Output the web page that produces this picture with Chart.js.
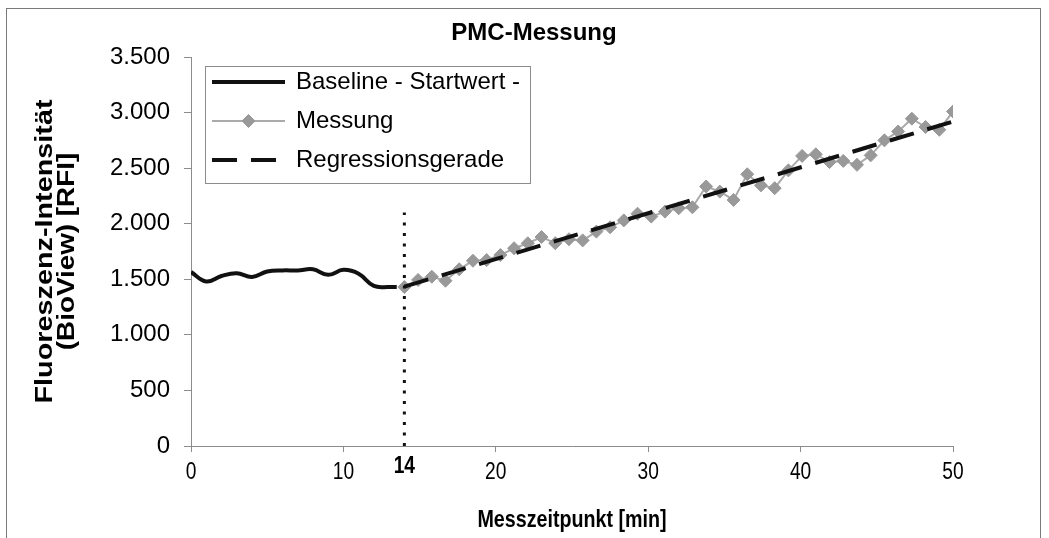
<!DOCTYPE html>
<html>
<head>
<meta charset="utf-8">
<title>PMC-Messung</title>
<script src="https://cdn.jsdelivr.net/npm/chart.js@4.4.0/dist/chart.umd.min.js"></script>
<style>
  html, body { margin: 0; padding: 0; background: #ffffff; }
  canvas { display: block; }
</style>
</head>
<body>
<canvas id="chart" width="1049" height="538"></canvas>
<script>
// Baseline phase before the start of the measurement (minutes, RFI)
const baselineTimes  = [0, 1, 2, 3, 4, 5, 6, 7, 8, 9, 10, 11, 12, 13, 13.5];
const baselineValues = [1565, 1480, 1530, 1555, 1520, 1570, 1580, 1580, 1590, 1540, 1585, 1550, 1440, 1430, 1430];

// Measurement readings from minute 14 onwards (minutes, RFI)
const messungTimes = [14, 14.9, 15.8, 16.7, 17.6, 18.5, 19.4, 20.3, 21.2, 22.1,
                      23, 23.9, 24.8, 25.7, 26.6, 27.5, 28.4, 29.3, 30.2, 31.1,
                      32, 32.9, 33.8, 34.7, 35.6, 36.5, 37.4, 38.3, 39.2, 40.1,
                      41, 41.9, 42.8, 43.7, 44.6, 45.5, 46.4, 47.3, 48.2, 49.1, 50];
const messungValues = [1430, 1494, 1523, 1487, 1590, 1667, 1673, 1718, 1779, 1824,
                       1880, 1825, 1860, 1850, 1929, 1968, 2030, 2090, 2064, 2109,
                       2139, 2148, 2335, 2289, 2214, 2445, 2345, 2320, 2480, 2610,
                       2625, 2555, 2565, 2530, 2615, 2750, 2830, 2945, 2870, 2845, 3010];

// Start-of-measurement marker
const startMinute = 14;
const startMarkerTop = 2100;

// Axis ticks
const xTickValues = [0, 10, 20, 30, 40, 50];
const yTickValues = [0, 500, 1000, 1500, 2000, 2500, 3000, 3500];

const chartTitle = 'PMC-Messung';
const xAxisTitle = 'Messzeitpunkt [min]';
const yAxisTitle = ['Fluoreszenz-Intensität', '(BioView) [RFI]'];
const legendLabels = ['Baseline - Startwert -', 'Messung', 'Regressionsgerade'];

// Least-squares line through the measurement readings
function linearFit(xs, ys) {
  const n = xs.length;
  let sx = 0, sy = 0, sxx = 0, sxy = 0;
  for (let i = 0; i < n; i++) {
    sx += xs[i]; sy += ys[i]; sxx += xs[i] * xs[i]; sxy += xs[i] * ys[i];
  }
  const slope = (n * sxy - sx * sy) / (n * sxx - sx * sx);
  const intercept = (sy - slope * sx) / n;
  return { slope, intercept };
}
const fit = linearFit(messungTimes, messungValues);
const fitStart = messungTimes[0];
const fitEnd = messungTimes[messungTimes.length - 1];

const toPoints = (xs, ys) => xs.map((x, i) => ({ x: x, y: ys[i] }));

const SANS = "'Liberation Sans', Arial, sans-serif";
const AXIS_GREY = '#8c8c8c';
const MARK_GREY = '#999999';

function formatThousands(v) {
  return String(Math.round(v)).replace(/\B(?=(\d{3})+(?!\d))/g, '.');
}

// Text drawn with a horizontal squeeze/stretch factor (narrow axis lettering)
function drawScaledText(ctx, text, x, y, sx, rotation) {
  ctx.save();
  ctx.translate(x, y);
  if (rotation) ctx.rotate(rotation);
  ctx.scale(sx, 1);
  ctx.fillText(text, 0, 0);
  ctx.restore();
}

// White page with a thin frame around the whole figure
const framePlugin = {
  id: 'frame',
  beforeDraw(chart) {
    const ctx = chart.ctx;
    ctx.save();
    ctx.fillStyle = '#ffffff';
    ctx.fillRect(0, 0, chart.width, chart.height);
    ctx.strokeStyle = '#7a7a7a';
    ctx.lineWidth = 1;
    ctx.strokeRect(6.5, 8.5, 1034, 545);
    ctx.restore();
  }
};

// Heading, axis titles, x tick labels and the bold "14" mark
const textPlugin = {
  id: 'axisTexts',
  afterDraw(chart) {
    const ctx = chart.ctx;
    const xs = chart.scales.x;
    const area = chart.chartArea;
    ctx.save();
    ctx.fillStyle = '#000000';
    ctx.textAlign = 'center';
    ctx.textBaseline = 'middle';

    ctx.font = "bold 24px " + SANS;
    ctx.fillText(chartTitle, 534, 33);

    // x tick labels (narrow lettering)
    ctx.font = "24px " + SANS;
    xTickValues.forEach(v => {
      drawScaledText(ctx, String(v), xs.getPixelForValue(v), area.bottom + 26, 0.8, 0);
    });

    // start marker label
    ctx.font = "bold 24px " + SANS;
    drawScaledText(ctx, String(startMinute), xs.getPixelForValue(startMinute), area.bottom + 20, 0.8, 0);

    // x axis title
    drawScaledText(ctx, xAxisTitle, (area.left + area.right) / 2, 520, 0.82, 0);

    // y axis title, two lines, lettering stretched along the axis
    const cy = (area.top + area.bottom) / 2;
    drawScaledText(ctx, yAxisTitle[0], 45, cy, 1.2, -Math.PI / 2);
    drawScaledText(ctx, yAxisTitle[1], 67, cy, 1.16, -Math.PI / 2);
    ctx.restore();
  }
};

// Framed legend placed in the upper left of the plot area
const boxLegendPlugin = {
  id: 'boxLegend',
  afterDatasetsDraw(chart) {
    const ctx = chart.ctx;
    const box = { left: 205.5, top: 66.5, width: 325, height: 117 };
    const rowsY = [82, 121, 160];
    const sampleX0 = 212, sampleX1 = 285, textX = 296;
    ctx.save();
    ctx.fillStyle = '#ffffff';
    ctx.fillRect(box.left, box.top, box.width, box.height);
    ctx.strokeStyle = AXIS_GREY;
    ctx.lineWidth = 1;
    ctx.strokeRect(box.left, box.top, box.width, box.height);

    legendLabels.forEach((label, i) => {
      const ds = chart.data.datasets.find(d => d.label === label);
      const y = rowsY[i];
      ctx.save();
      ctx.strokeStyle = ds.borderColor;
      ctx.lineWidth = ds.borderWidth;
      ctx.setLineDash(ds.borderDash || []);
      ctx.beginPath();
      ctx.moveTo(sampleX0, y);
      ctx.lineTo(sampleX1, y);
      ctx.stroke();
      ctx.setLineDash([]);
      if (ds.pointRadius > 0) {
        ctx.fillStyle = ds.pointBackgroundColor;
        ctx.strokeStyle = ds.pointBorderColor;
        ctx.lineWidth = ds.pointBorderWidth;
        Chart.helpers.drawPoint(ctx, {
          pointStyle: ds.pointStyle, radius: ds.pointRadius, rotation: 0,
          borderWidth: ds.pointBorderWidth
        }, (sampleX0 + sampleX1) / 2, y);
      }
      ctx.restore();
      ctx.fillStyle = '#000000';
      ctx.font = "24px " + SANS;
      ctx.textAlign = 'left';
      ctx.textBaseline = 'middle';
      ctx.fillText(label, textX, y);
    });
    ctx.restore();
  }
};

new Chart(document.getElementById('chart'), {
  type: 'scatter',
  data: {
    datasets: [
      {
        label: 'Regressionsgerade',
        data: [
          { x: fitStart, y: fit.intercept + fit.slope * fitStart },
          { x: fitEnd, y: fit.intercept + fit.slope * fitEnd }
        ],
        showLine: true,
        borderColor: '#111111',
        borderWidth: 4,
        borderDash: [25, 14],
        pointRadius: 0,
        order: 0
      },
      {
        label: 'Startmarke',
        data: [{ x: startMinute, y: 0 }, { x: startMinute, y: startMarkerTop }],
        showLine: true,
        borderColor: '#111111',
        borderWidth: 3,
        borderDash: [3, 7.5],
        pointRadius: 0,
        order: 1
      },
      {
        label: 'Messung',
        data: toPoints(messungTimes, messungValues),
        showLine: true,
        borderColor: '#aaaaaa',
        borderWidth: 2,
        pointStyle: 'rectRot',
        pointRadius: 6.5,
        pointBackgroundColor: MARK_GREY,
        pointBorderColor: MARK_GREY,
        pointBorderWidth: 1,
        order: 2
      },
      {
        label: 'Baseline - Startwert -',
        data: toPoints(baselineTimes, baselineValues),
        showLine: true,
        borderColor: '#111111',
        borderWidth: 4,
        tension: 0.4,
        pointRadius: 0,
        order: 3
      }
    ]
  },
  options: {
    responsive: false,
    animation: false,
    devicePixelRatio: 1,
    layout: { padding: { left: 0, right: 96, top: 57, bottom: 0 } },
    plugins: {
      legend: { display: false },
      title: { display: false },
      tooltip: { enabled: false }
    },
    scales: {
      x: {
        type: 'linear',
        min: 0,
        max: 50,
        afterBuildTicks(scale) { scale.ticks = xTickValues.map(v => ({ value: v })); },
        afterFit(scale) { scale.height = 92; },
        ticks: { display: false },
        grid: { drawOnChartArea: false, drawTicks: true, tickLength: 6, color: AXIS_GREY, lineWidth: 1 },
        border: { display: true, color: AXIS_GREY, width: 1 },
        title: { display: false }
      },
      y: {
        type: 'linear',
        min: 0,
        max: 3500,
        afterBuildTicks(scale) { scale.ticks = yTickValues.map(v => ({ value: v })); },
        afterFit(scale) { scale.width = 191; },
        ticks: {
          color: '#000000',
          font: { family: SANS, size: 24 },
          padding: 14,
          callback: v => formatThousands(v)
        },
        grid: { drawOnChartArea: false, drawTicks: true, tickLength: 7, color: AXIS_GREY, lineWidth: 1 },
        border: { display: true, color: AXIS_GREY, width: 1 },
        title: { display: false }
      }
    }
  },
  plugins: [framePlugin, boxLegendPlugin, textPlugin]
});
</script>
</body>
</html>
